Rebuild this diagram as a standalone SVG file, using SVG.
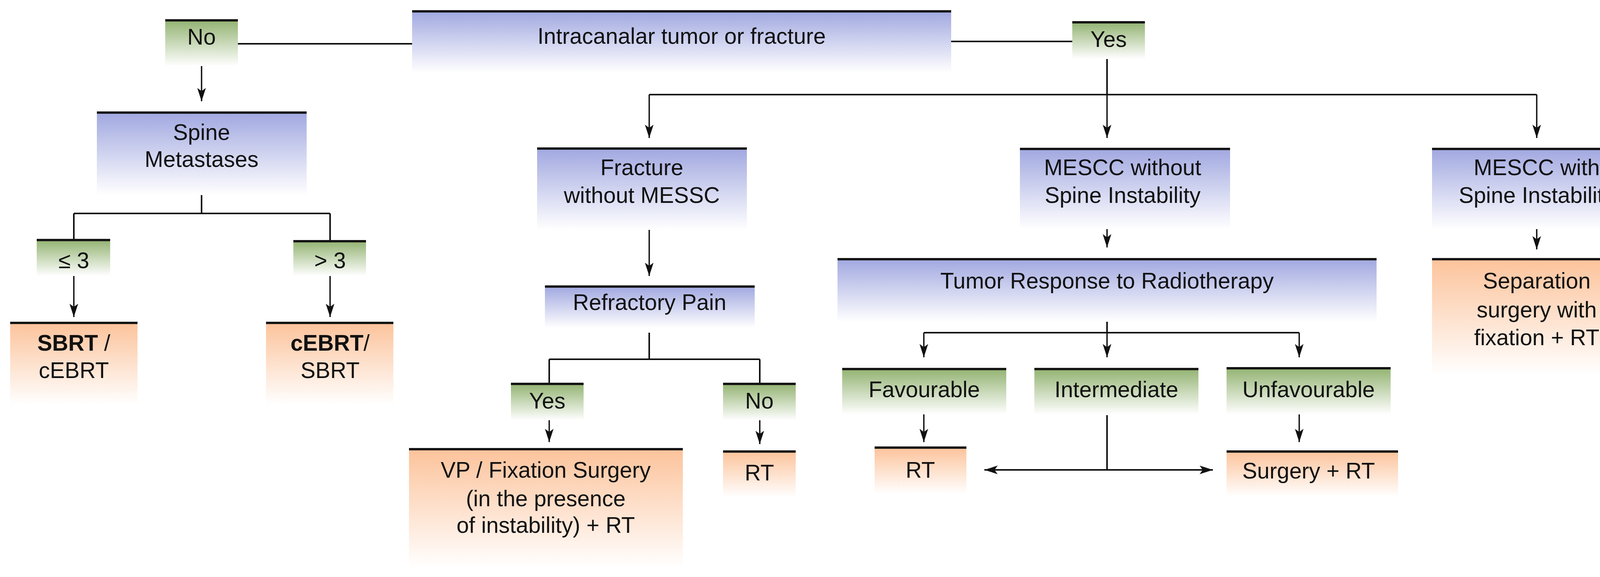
<svg xmlns="http://www.w3.org/2000/svg" width="4228" height="1476" viewBox="0 0 4228 1476">
<defs>
<linearGradient id="gb" x1="0" y1="0" x2="0" y2="1"><stop offset="0" stop-color="#a1a8e0"/><stop offset="1" stop-color="#ffffff"/></linearGradient>
<linearGradient id="gg" x1="0" y1="0" x2="0" y2="1"><stop offset="0" stop-color="#93b372"/><stop offset="1" stop-color="#ffffff"/></linearGradient>
<linearGradient id="go" x1="0" y1="0" x2="0" y2="1"><stop offset="0" stop-color="#fcc39b"/><stop offset="1" stop-color="#ffffff"/></linearGradient>
<marker id="ah2" markerUnits="userSpaceOnUse" markerWidth="34" markerHeight="22" viewBox="0 0 34 22" refX="34" refY="11" orient="auto-start-reverse"><path d="M0,0 L34,11 L0,22 L8,11 Z" fill="#111"/></marker>
</defs>
<style>
.b{fill:url(#gb)}.g{fill:url(#gg)}.o{fill:url(#go)}
.tl{stroke:#151515;stroke-width:6}
text{font-family:"Liberation Sans",Arial,sans-serif;font-size:57px;fill:#111;text-anchor:middle}
.c{fill:none;stroke:#111;stroke-width:4}
.v{fill:none;stroke:#111;stroke-width:3.5;marker-end:url(#ah2)}
</style>
<rect width="4228" height="1476" fill="#fff"/>
<g id="connectors">
<path class="c" d="M609,112 H1055 M2435,106 H2745"/>
<path class="v" d="M516,167 V259"/>
<path class="c" d="M516,476 V546 M189,546 H845 M189,546 V614 M845,546 V617"/>
<path class="v" d="M189,706 V811"/>
<path class="v" d="M845,706 V811"/>
<path class="c" d="M2834,148 V242 M1662,242 H3934"/>
<path class="v" d="M1662,242 V353"/>
<path class="v" d="M2834,242 V353"/>
<path class="v" d="M3934,242 V353"/>
<path class="v" d="M1662,546 V706"/>
<path class="c" d="M1662,851 V919 M1406,919 H1945 M1406,919 V982 M1945,919 V982"/>
<path class="v" d="M1406,1058 V1131"/>
<path class="v" d="M1945,1062 V1136"/>
<path class="v" d="M2834,546 V633"/>
<path class="v" d="M3934,565 V638"/>
<path class="c" d="M2834,804 V851 M2365,851 H3326"/>
<path class="v" d="M2365,851 V914"/>
<path class="v" d="M2834,851 V914"/>
<path class="v" d="M3326,851 V914"/>
<path class="v" d="M2365,1057 V1131"/>
<path class="v" d="M3326,1057 V1131"/>
<path class="c" d="M2834,1062 V1202"/>
<path class="c" d="M2520,1202 H3105" style="marker-start:url(#ah2);marker-end:url(#ah2)"/>
</g>
<g id="n_root"><rect class="b" x="1055" y="29" width="1380" height="157"/><line class="tl" x1="1055" y1="29" x2="2435" y2="29"/><text x="1745" y="112">Intracanalar tumor or fracture</text></g>
<g id="n_no1"><rect class="g" x="423" y="52" width="186" height="117"/><line class="tl" x1="423" y1="52" x2="609" y2="52"/><text x="516" y="114">No</text></g>
<g id="n_yes1"><rect class="g" x="2745" y="57" width="186" height="94"/><line class="tl" x1="2745" y1="57" x2="2931" y2="57"/><text x="2838" y="120">Yes</text></g>
<g id="n_spine"><rect class="b" x="248" y="288" width="537" height="211"/><line class="tl" x1="248" y1="288" x2="785" y2="288"/><text x="516" y="358">Spine</text><text x="516" y="427">Metastases</text></g>
<g id="n_le3"><rect class="g" x="94" y="614" width="188" height="92"/><line class="tl" x1="94" y1="614" x2="282" y2="614"/><text x="189" y="686">≤ 3</text></g>
<g id="n_gt3"><rect class="g" x="751" y="617" width="186" height="89"/><line class="tl" x1="751" y1="617" x2="937" y2="617"/><text x="845" y="686">&gt; 3</text></g>
<g id="n_sbrt"><rect class="o" x="26" y="826" width="326" height="209"/><line class="tl" x1="26" y1="826" x2="352" y2="826"/><text x="189" y="897"><tspan font-weight="bold">SBRT</tspan> /</text><text x="189" y="967">cEBRT</text></g>
<g id="n_cebrt"><rect class="o" x="681" y="826" width="326" height="209"/><line class="tl" x1="681" y1="826" x2="1007" y2="826"/><text x="845" y="897"><tspan font-weight="bold">cEBRT</tspan>/</text><text x="845" y="967">SBRT</text></g>
<g id="n_frac"><rect class="b" x="1375" y="380" width="537" height="208"/><line class="tl" x1="1375" y1="380" x2="1912" y2="380"/><text x="1643" y="448">Fracture</text><text x="1643" y="519">without MESSC</text></g>
<g id="n_refr"><rect class="b" x="1395" y="733" width="537" height="106"/><line class="tl" x1="1395" y1="733" x2="1932" y2="733"/><text x="1663" y="793">Refractory Pain</text></g>
<g id="n_yes2"><rect class="g" x="1308" y="982" width="186" height="93"/><line class="tl" x1="1308" y1="982" x2="1494" y2="982"/><text x="1401" y="1045">Yes</text></g>
<g id="n_no2"><rect class="g" x="1851" y="982" width="186" height="93"/><line class="tl" x1="1851" y1="982" x2="2037" y2="982"/><text x="1944" y="1045">No</text></g>
<g id="n_vp"><rect class="o" x="1047" y="1149" width="701" height="304"/><line class="tl" x1="1047" y1="1149" x2="1748" y2="1149"/><text x="1397" y="1222">VP / Fixation Surgery</text><text x="1397" y="1295">(in the presence</text><text x="1397" y="1363">of instability) + RT</text></g>
<g id="n_rt1"><rect class="o" x="1851" y="1155" width="186" height="117"/><line class="tl" x1="1851" y1="1155" x2="2037" y2="1155"/><text x="1944" y="1229">RT</text></g>
<g id="n_mwo"><rect class="b" x="2611" y="381" width="538" height="205"/><line class="tl" x1="2611" y1="381" x2="3149" y2="381"/><text x="2874" y="448">MESCC without</text><text x="2874" y="519">Spine Instability</text></g>
<g id="n_mwi"><rect class="b" x="3666" y="381" width="537" height="205"/><line class="tl" x1="3666" y1="381" x2="4203" y2="381"/><text x="3934" y="448">MESCC with</text><text x="3934" y="519">Spine Instability</text></g>
<g id="n_tumor"><rect class="b" x="2144" y="663" width="1380" height="160"/><line class="tl" x1="2144" y1="663" x2="3524" y2="663"/><text x="2834" y="738">Tumor Response to Radiotherapy</text></g>
<g id="n_sep"><rect class="o" x="3666" y="663" width="537" height="296"/><line class="tl" x1="3666" y1="663" x2="4203" y2="663"/><text x="3934" y="738">Separation</text><text x="3934" y="812">surgery with</text><text x="3934" y="883">fixation + RT</text></g>
<g id="n_fav"><rect class="g" x="2156" y="944" width="420" height="116"/><line class="tl" x1="2156" y1="944" x2="2576" y2="944"/><text x="2366" y="1016">Favourable</text></g>
<g id="n_inter"><rect class="g" x="2648" y="944" width="420" height="116"/><line class="tl" x1="2648" y1="944" x2="3068" y2="944"/><text x="2858" y="1016">Intermediate</text></g>
<g id="n_unfav"><rect class="g" x="3140" y="942" width="420" height="118"/><line class="tl" x1="3140" y1="942" x2="3560" y2="942"/><text x="3350" y="1016">Unfavourable</text></g>
<g id="n_rt2"><rect class="o" x="2239" y="1145" width="235" height="118"/><line class="tl" x1="2239" y1="1145" x2="2474" y2="1145"/><text x="2356" y="1222">RT</text></g>
<g id="n_surg"><rect class="o" x="3140" y="1155" width="439" height="115"/><line class="tl" x1="3140" y1="1155" x2="3579" y2="1155"/><text x="3350" y="1224">Surgery + RT</text></g>
</svg>
